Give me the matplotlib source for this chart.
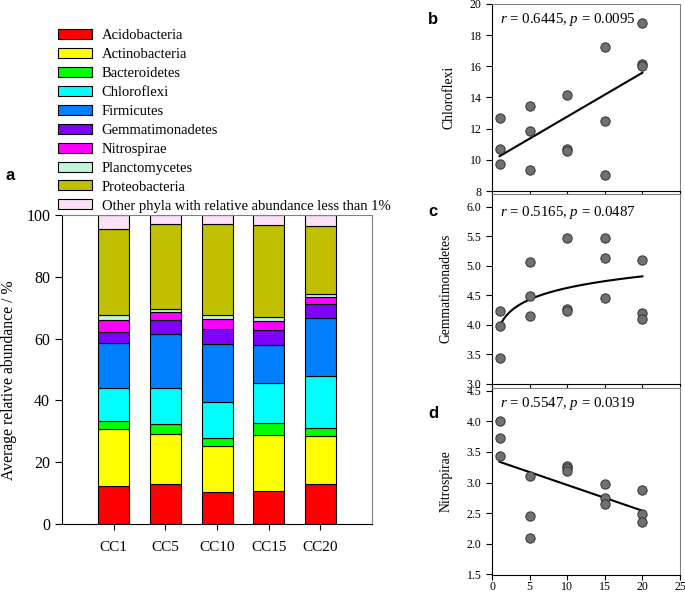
import matplotlib
matplotlib.use("Agg")
import matplotlib.pyplot as plt
from matplotlib.patches import Patch
import numpy as np

plt.rcParams["font.family"] = ["Liberation Serif", "DejaVu Serif"]
plt.rcParams["mathtext.fontset"] = "custom"
plt.rcParams["mathtext.it"] = "Liberation Serif:italic"
plt.rcParams["mathtext.rm"] = "Liberation Serif"

# stacked bar data (% per phylum)
samples = ["CC1", "CC5", "CC10", "CC15", "CC20"]
phyla = ["Acidobacteria", "Actinobacteria", "Bacteroidetes", "Chloroflexi", "Firmicutes",
         "Gemmatimonadetes", "Nitrospirae", "Planctomycetes", "Proteobacteria",
         "Other phyla with relative abundance less than 1%"]
acidobacteria = [12.3, 12.8, 10.2, 10.7, 12.8]
actinobacteria = [18.6, 16.3, 15.2, 18.0, 15.6]
bacteroidetes = [2.3, 3.2, 2.3, 4.1, 2.6]
chloroflexi = [10.9, 11.6, 11.8, 12.8, 17.0]
firmicutes = [14.4, 17.5, 18.9, 12.2, 18.8]
gemmatimonadetes = [3.7, 4.5, 4.6, 5.0, 4.3]
nitrospirae = [3.8, 2.6, 3.2, 2.8, 2.5]
planctomycetes = [1.6, 1.1, 1.5, 1.4, 0.8]
proteobacteria = [27.8, 27.4, 29.3, 29.7, 21.9]
other = [4.6, 3.0, 3.0, 3.3, 3.7]
bar_colors = ["#ff0000", "#ffff00", "#00ff00", "#00ffff", "#0080ff",
              "#8000ff", "#ff00ff", "#c2f5dc", "#c0c000", "#fbe0f8"]

# scatter data: sampling interval vs relative abundance
days = [1, 1, 1, 5, 5, 5, 10, 10, 10, 15, 15, 15, 20, 20, 20]
chloro_pts = [12.71, 10.72, 9.75, 13.43, 11.85, 9.35, 14.14, 10.67, 10.55,
              17.24, 12.49, 9.05, 18.78, 16.17, 16.02]
gemma_pts = [4.24, 3.97, 3.44, 5.06, 4.48, 4.15, 5.48, 4.27, 4.24,
             5.48, 5.13, 4.45, 5.10, 4.19, 4.10]
nitro_pts = [4.01, 3.73, 3.43, 3.10, 2.46, 2.10, 3.27, 3.24, 3.19,
             2.98, 2.75, 2.65, 2.88, 2.48, 2.35]

# fitted curves (coefficients)
chloro_fit = (0.282, 9.95)      # slope, intercept
gemma_fit = (0.284, 3.97)       # b, a for a + b*ln(x)
nitro_fit = (-0.042, 3.38)      # slope, intercept

W, H = 685, 594
fig = plt.figure(figsize=(W / 100, H / 100), dpi=100)


def fpos(l, t, r, b):
    return [l / W, 1 - b / H, (r - l) / W, (b - t) / H]


# ---- panel a ----
ax = fig.add_axes(fpos(62, 215, 372, 524))
x = np.arange(len(samples))
series = [acidobacteria, actinobacteria, bacteroidetes, chloroflexi, firmicutes,
          gemmatimonadetes, nitrospirae, planctomycetes, proteobacteria, other]
bottom = np.zeros(len(samples))
for vals, col in zip(series, bar_colors):
    ax.bar(x, vals, 0.6, bottom=bottom, color=col, edgecolor="black", linewidth=0.8)
    bottom += np.array(vals)
ax.set_xlim(-1, 5)
ax.set_ylim(0, 100)
ax.set_xticks(x)
ax.set_xticklabels(samples, fontsize=11)
ax.set_yticks([0, 20, 40, 60, 80, 100])
ax.tick_params(axis="y", labelsize=11.5, direction="out", length=5)
ax.tick_params(axis="x", direction="out", length=4, pad=8)
ax.set_ylabel("Average relative abundance / %", fontsize=11.3)
ax.yaxis.set_label_coords(-0.145, 0.466)
ax.spines["top"].set_color("gray")
ax.spines["right"].set_color("gray")

handles = [Patch(facecolor=c, edgecolor="black", linewidth=0.8) for c in bar_colors]
fig.legend(handles, phyla, loc="upper left", bbox_to_anchor=(52 / W, 1 - 23 / H),
           frameon=False, fontsize=10.5, handlelength=2.35, handleheight=0.68,
           labelspacing=0.4, handletextpad=0.65, borderaxespad=0)

fig.text(5 / W, 1 - 176 / H, "a", fontsize=12, fontweight="bold",
         family="Liberation Sans", va="center")


# ---- panels b, c, d ----
def scatter_panel(box, pts, ylim, yticks, ylabel, txt, txt_y, letter, letter_y, last=False):
    a = fig.add_axes(fpos(*box))
    a.scatter(days, pts, s=45, color="#707070", edgecolor="#333333", linewidth=0.7, zorder=3)
    a.set_xlim(0, 25)
    a.set_ylim(*ylim)
    a.set_yticks(yticks)
    a.set_xticks([0, 5, 10, 15, 20, 25])
    a.tick_params(labelsize=8.6, direction="out", length=4)
    a.tick_params(axis="x", pad=1.5, length=3.5)
    if not last:
        a.set_xticklabels([])
    a.set_ylabel(ylabel, fontsize=9.8, labelpad=10)
    a.spines["top"].set_color("gray")
    a.spines["right"].set_color("gray")
    a.text(0.04, txt_y, txt, transform=a.transAxes, fontsize=10.7, va="center")
    fig.text(428 / W, 1 - letter_y / H, letter, fontsize=12, fontweight="bold",
             family="Liberation Sans", va="center")
    return a


ab = scatter_panel((492, 4, 680, 191), chloro_pts, (8, 20), [8, 10, 12, 14, 16, 18, 20],
                   "Chloroflexi", r"$r$ = 0.6445, $p$ = 0.0095", 0.918, "b", 20)
xs = np.array([1, 20])
ab.plot(xs, chloro_fit[0] * xs + chloro_fit[1], color="black", lw=1.5)

ac = scatter_panel((492, 194, 680, 383.5), gemma_pts, (3.0, 6.22),
                   [3.0, 3.5, 4.0, 4.5, 5.0, 5.5, 6.0],
                   "Gemmatimonadetes", r"$r$ = 0.5165, $p$ = 0.0487", 0.90, "c", 212)
ac.set_yticklabels(["3.0", "3.5", "4.0", "4.5", "5.0", "5.5", "6.0"])
xc = np.linspace(1, 20, 100)
ac.plot(xc, gemma_fit[1] + gemma_fit[0] * np.log(xc), color="black", lw=1.5)

ad = scatter_panel((492, 387.5, 680, 574.5), nitro_pts, (1.5, 4.55),
                   [1.5, 2.0, 2.5, 3.0, 3.5, 4.0, 4.5],
                   "Nitrospirae", r"$r$ = 0.5547, $p$ = 0.0319", 0.913, "d", 413, last=True)
ad.set_yticklabels(["1.5", "2.0", "2.5", "3.0", "3.5", "4.0", "4.5"])
ad.plot(xs, nitro_fit[0] * xs + nitro_fit[1], color="black", lw=1.5)

fig.savefig("out.png", dpi=100)
